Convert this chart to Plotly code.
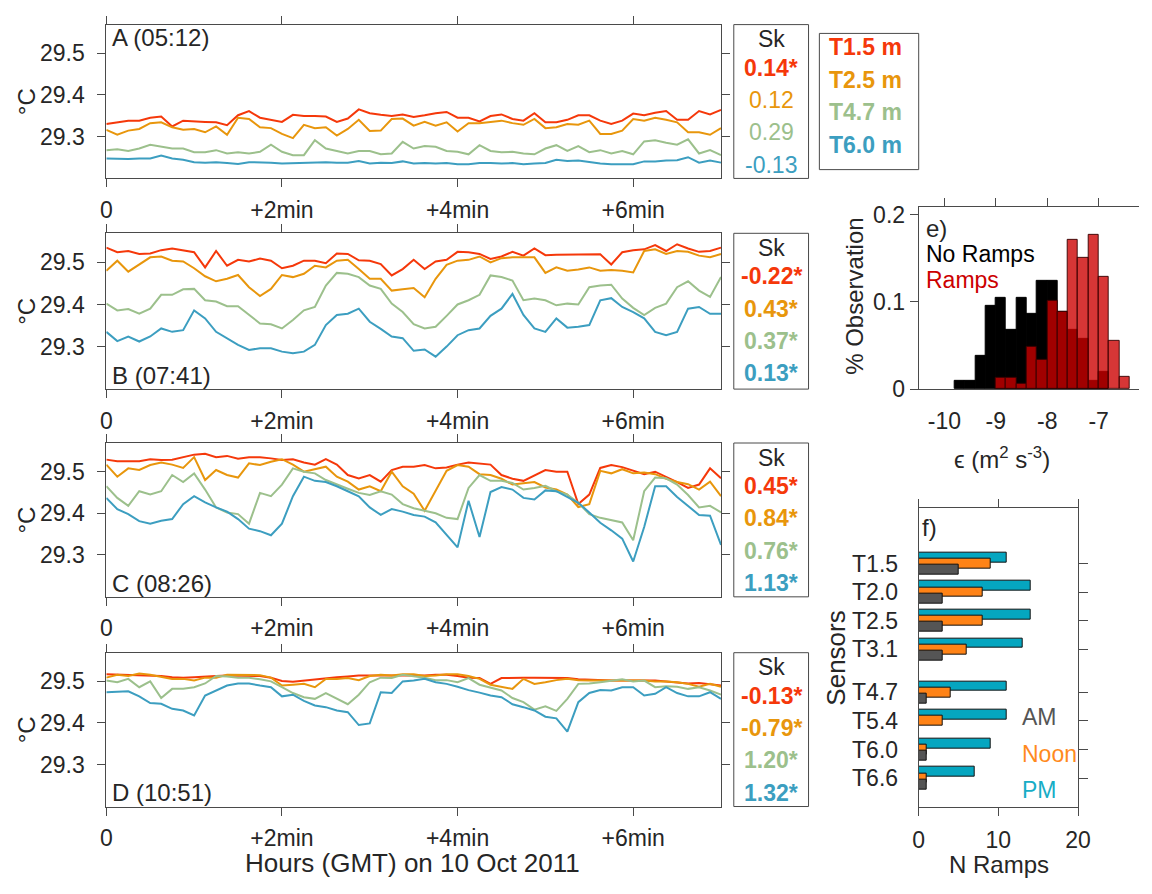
import numpy as np
import plotly.graph_objects as go

# ---------------- sensor colours ----------------
C_T15 = "#F5380A"
C_T25 = "#E8960C"
C_T47 = "#9CC08C"
C_T60 = "#3C9EC0"
SENSOR_COLORS = [C_T15, C_T25, C_T47, C_T60]
SENSOR_NAMES = ["T1.5 m", "T2.5 m", "T4.7 m", "T6.0 m"]

# ---------------- temperature records (degC), 7-min windows ----------------
a_t15 = [29.330, 29.334, 29.338, 29.338, 29.345, 29.348, 29.324, 29.338, 29.336, 29.335,
         29.334, 29.327, 29.351, 29.361, 29.345, 29.340, 29.335, 29.352, 29.349, 29.349,
         29.348, 29.335, 29.343, 29.365, 29.356, 29.352, 29.349, 29.353, 29.347, 29.351,
         29.356, 29.359, 29.345, 29.345, 29.336, 29.349, 29.353, 29.342, 29.338, 29.356,
         29.334, 29.334, 29.340, 29.351, 29.351, 29.338, 29.330, 29.338, 29.355, 29.351,
         29.357, 29.361, 29.340, 29.340, 29.361, 29.353, 29.364]
a_t25 = [29.316, 29.304, 29.314, 29.318, 29.332, 29.334, 29.322, 29.316, 29.318, 29.310,
         29.324, 29.304, 29.345, 29.342, 29.322, 29.320, 29.306, 29.296, 29.328, 29.320,
         29.322, 29.302, 29.318, 29.340, 29.313, 29.314, 29.342, 29.343, 29.326, 29.335,
         29.326, 29.334, 29.312, 29.332, 29.332, 29.335, 29.338, 29.332, 29.328, 29.342,
         29.320, 29.322, 29.330, 29.328, 29.338, 29.306, 29.306, 29.314, 29.342, 29.338,
         29.345, 29.340, 29.334, 29.310, 29.310, 29.304, 29.320]
a_t47 = [29.267, 29.269, 29.265, 29.271, 29.280, 29.275, 29.271, 29.271, 29.262, 29.262,
         29.267, 29.259, 29.262, 29.259, 29.263, 29.280, 29.263, 29.255, 29.255, 29.291,
         29.271, 29.265, 29.259, 29.265, 29.265, 29.257, 29.259, 29.287, 29.271, 29.277,
         29.275, 29.265, 29.263, 29.257, 29.279, 29.265, 29.262, 29.263, 29.259, 29.257,
         29.271, 29.279, 29.265, 29.277, 29.262, 29.267, 29.259, 29.265, 29.257, 29.288,
         29.291, 29.285, 29.280, 29.293, 29.259, 29.267, 29.255]
a_t60 = [29.247, 29.246, 29.246, 29.247, 29.247, 29.254, 29.247, 29.244, 29.238, 29.237,
         29.238, 29.236, 29.234, 29.238, 29.238, 29.237, 29.235, 29.236, 29.236, 29.237,
         29.238, 29.237, 29.237, 29.241, 29.235, 29.237, 29.236, 29.240, 29.235, 29.236,
         29.235, 29.236, 29.233, 29.233, 29.236, 29.236, 29.235, 29.236, 29.233, 29.235,
         29.236, 29.244, 29.241, 29.242, 29.238, 29.235, 29.233, 29.233, 29.233, 29.240,
         29.240, 29.242, 29.243, 29.250, 29.237, 29.242, 29.237]

b_t15 = [29.535, 29.524, 29.527, 29.520, 29.521, 29.529, 29.533, 29.529, 29.524, 29.488,
         29.527, 29.492, 29.506, 29.502, 29.509, 29.504, 29.486, 29.492, 29.504, 29.504,
         29.498, 29.521, 29.520, 29.505, 29.504, 29.496, 29.469, 29.484, 29.506, 29.484,
         29.502, 29.506, 29.525, 29.524, 29.520, 29.508, 29.514, 29.525, 29.516, 29.533,
         29.517, 29.518, 29.518, 29.519, 29.519, 29.519, 29.495, 29.524, 29.529, 29.531,
         29.541, 29.527, 29.543, 29.533, 29.525, 29.527, 29.535]
b_t25 = [29.480, 29.504, 29.478, 29.494, 29.512, 29.514, 29.504, 29.502, 29.486, 29.467,
         29.455, 29.461, 29.470, 29.441, 29.420, 29.437, 29.470, 29.465, 29.473, 29.492,
         29.488, 29.504, 29.506, 29.484, 29.461, 29.461, 29.433, 29.436, 29.439, 29.417,
         29.461, 29.494, 29.504, 29.506, 29.514, 29.500, 29.510, 29.512, 29.512, 29.512,
         29.475, 29.488, 29.480, 29.483, 29.488, 29.480, 29.482, 29.480, 29.476, 29.527,
         29.531, 29.520, 29.527, 29.525, 29.516, 29.512, 29.520]
b_t47 = [29.402, 29.386, 29.389, 29.378, 29.390, 29.423, 29.423, 29.436, 29.437, 29.410,
         29.407, 29.396, 29.396, 29.375, 29.355, 29.353, 29.343, 29.363, 29.386, 29.394,
         29.445, 29.475, 29.473, 29.465, 29.445, 29.437, 29.402, 29.382, 29.353, 29.343,
         29.347, 29.373, 29.400, 29.410, 29.423, 29.469, 29.465, 29.457, 29.410, 29.414,
         29.410, 29.398, 29.402, 29.400, 29.441, 29.445, 29.447, 29.414, 29.392, 29.375,
         29.392, 29.402, 29.441, 29.455, 29.433, 29.418, 29.465]
b_t60 = [29.335, 29.313, 29.324, 29.312, 29.324, 29.343, 29.335, 29.339, 29.386, 29.367,
         29.335, 29.320, 29.304, 29.292, 29.296, 29.296, 29.288, 29.284, 29.288, 29.304,
         29.351, 29.375, 29.378, 29.390, 29.359, 29.342, 29.324, 29.320, 29.290, 29.293,
         29.276, 29.300, 29.327, 29.339, 29.343, 29.373, 29.390, 29.425, 29.375, 29.343,
         29.335, 29.367, 29.345, 29.347, 29.351, 29.410, 29.415, 29.394, 29.382, 29.367,
         29.335, 29.327, 29.335, 29.390, 29.394, 29.378, 29.378]

c_t15 = [29.529, 29.525, 29.525, 29.525, 29.530, 29.528, 29.529, 29.535, 29.541, 29.543,
         29.535, 29.538, 29.531, 29.535, 29.535, 29.532, 29.528, 29.530, 29.522, 29.517,
         29.530, 29.517, 29.492, 29.484, 29.492, 29.476, 29.504, 29.512, 29.512, 29.516,
         29.508, 29.510, 29.517, 29.522, 29.520, 29.517, 29.492, 29.483, 29.478, 29.492,
         29.504, 29.500, 29.500, 29.422, 29.445, 29.509, 29.516, 29.511, 29.502, 29.494,
         29.500, 29.488, 29.475, 29.461, 29.469, 29.508, 29.484]
c_t25 = [29.517, 29.488, 29.508, 29.504, 29.516, 29.522, 29.517, 29.509, 29.535, 29.480,
         29.504, 29.492, 29.486, 29.520, 29.516, 29.524, 29.530, 29.517, 29.500, 29.506,
         29.512, 29.488, 29.476, 29.457, 29.465, 29.453, 29.500, 29.465, 29.447, 29.406,
         29.453, 29.502, 29.516, 29.512, 29.494, 29.492, 29.483, 29.469, 29.472, 29.475,
         29.462, 29.457, 29.445, 29.415, 29.422, 29.502, 29.496, 29.506, 29.496, 29.498,
         29.494, 29.483, 29.475, 29.470, 29.457, 29.476, 29.441]
c_t47 = [29.465, 29.437, 29.418, 29.453, 29.445, 29.453, 29.492, 29.475, 29.496, 29.457,
         29.414, 29.402, 29.398, 29.375, 29.449, 29.441, 29.469, 29.508, 29.500, 29.496,
         29.480, 29.469, 29.459, 29.449, 29.444, 29.453, 29.445, 29.422, 29.412, 29.406,
         29.400, 29.389, 29.386, 29.461, 29.492, 29.478, 29.478, 29.473, 29.457, 29.461,
         29.466, 29.453, 29.445, 29.425, 29.398, 29.389, 29.384, 29.378, 29.335, 29.453,
         29.486, 29.484, 29.469, 29.444, 29.414, 29.418, 29.402]
c_t60 = [29.437, 29.410, 29.398, 29.381, 29.375, 29.382, 29.386, 29.422, 29.441, 29.426,
         29.414, 29.404, 29.386, 29.363, 29.357, 29.347, 29.375, 29.441, 29.488, 29.478,
         29.475, 29.465, 29.453, 29.441, 29.414, 29.396, 29.410, 29.404, 29.396, 29.392,
         29.378, 29.347, 29.318, 29.430, 29.343, 29.451, 29.463, 29.457, 29.437, 29.433,
         29.455, 29.453, 29.440, 29.425, 29.402, 29.377, 29.359, 29.339, 29.284, 29.367,
         29.465, 29.465, 29.439, 29.418, 29.396, 29.394, 29.324]

d_t15 = [29.517, 29.516, 29.515, 29.515, 29.514, 29.513, 29.510, 29.509, 29.510, 29.512,
         29.513, 29.514, 29.514, 29.514, 29.513, 29.509, 29.501, 29.499, 29.502, 29.504,
         29.507, 29.510, 29.512, 29.514, 29.514, 29.514, 29.514, 29.514, 29.513, 29.514,
         29.516, 29.516, 29.513, 29.509, 29.508, 29.494, 29.508, 29.509, 29.509, 29.509,
         29.509, 29.508, 29.508, 29.505, 29.504, 29.502, 29.502, 29.502, 29.502, 29.502,
         29.502, 29.500, 29.498, 29.495, 29.496, 29.493, 29.490]
d_t25 = [29.509, 29.516, 29.513, 29.519, 29.516, 29.511, 29.506, 29.506, 29.502, 29.509,
         29.509, 29.516, 29.516, 29.516, 29.515, 29.509, 29.490, 29.492, 29.494, 29.486,
         29.506, 29.506, 29.508, 29.503, 29.513, 29.516, 29.514, 29.517, 29.517, 29.513,
         29.514, 29.517, 29.517, 29.513, 29.506, 29.492, 29.487, 29.482, 29.506, 29.494,
         29.498, 29.503, 29.506, 29.503, 29.502, 29.502, 29.502, 29.502, 29.502, 29.502,
         29.500, 29.500, 29.498, 29.494, 29.487, 29.494, 29.487]
d_t47 = [29.502, 29.498, 29.506, 29.486, 29.500, 29.460, 29.482, 29.482, 29.486, 29.495,
         29.513, 29.512, 29.509, 29.509, 29.505, 29.500, 29.486, 29.472, 29.462, 29.458,
         29.472, 29.458, 29.445, 29.468, 29.498, 29.509, 29.508, 29.516, 29.513, 29.509,
         29.503, 29.503, 29.498, 29.508, 29.492, 29.485, 29.478, 29.460, 29.450, 29.432,
         29.440, 29.429, 29.458, 29.494, 29.495, 29.498, 29.502, 29.505, 29.500, 29.502,
         29.486, 29.488, 29.487, 29.482, 29.486, 29.478, 29.468]
d_t60 = [29.474, 29.475, 29.476, 29.464, 29.448, 29.446, 29.434, 29.430, 29.418, 29.466,
         29.478, 29.490, 29.495, 29.495, 29.490, 29.486, 29.464, 29.468, 29.453, 29.442,
         29.438, 29.430, 29.426, 29.395, 29.399, 29.474, 29.472, 29.500, 29.502, 29.506,
         29.498, 29.494, 29.487, 29.479, 29.473, 29.466, 29.462, 29.445, 29.438, 29.430,
         29.415, 29.411, 29.379, 29.450, 29.472, 29.479, 29.478, 29.486, 29.486, 29.466,
         29.470, 29.486, 29.472, 29.464, 29.464, 29.474, 29.458]

# skewness of each record (asterisk = significant)
sk_a = ["0.14*", "0.12", "0.29", "-0.13"]
sk_b = ["-0.22*", "0.43*", "0.37*", "0.13*"]
sk_c = ["0.45*", "0.84*", "0.76*", "1.13*"]
sk_d = ["-0.13*", "-0.79*", "1.20*", "1.32*"]

# ---------------- dissipation histogram (fraction of observations) ----------------
bin_width = 0.2
no_ramps_first_edge = -9.8
no_ramps_frac = [0.010, 0.010, 0.038, 0.095, 0.105, 0.068, 0.105, 0.086,
                 0.124, 0.124, 0.089, 0.068, 0.058, 0.010, 0.020]
ramps_first_edge = -9.0
ramps_frac = [0.013, 0.013, 0.006, 0.048, 0.034, 0.101, 0.089,
              0.171, 0.150, 0.177, 0.129, 0.055, 0.014]

# ---------------- number of ramps per sensor ----------------
ramp_sensors = ["T1.5", "T2.0", "T2.5", "T3.1", "T4.7", "T5.4", "T6.0", "T6.6"]
ramps_am = [5, 3, 3, 3, 1, 0, 1, 1]
ramps_noon = [9, 8, 8, 6, 4, 3, 1, 1]
ramps_pm = [11, 14, 14, 13, 11, 11, 9, 7]
C_AM, C_NOON, C_PM = "#555555", "#FF8316", "#05A6C0"

# ---------------- page geometry helpers ----------------
W, H = 1152, 894
FONT = "Liberation Sans, Arial, Helvetica, sans-serif"
INK = "#262626"
AXC = "#4a4a4a"
TICK = 23


def fx(x):
    return x / W


def fy(y):
    return 1 - y / H


annotations = []
shapes = []


def label(text, x, y, size=24, color=INK, xanchor="center", yanchor="middle",
          angle=0, bold=False):
    if bold:
        text = f"<b>{text}</b>"
    annotations.append(dict(text=text, x=fx(x), y=fy(y), xref="paper", yref="paper",
                            xanchor=xanchor, yanchor=yanchor, showarrow=False,
                            textangle=angle, borderpad=0,
                            font=dict(family=FONT, size=size, color=color)))


def box(x0, y0, x1, y1):
    shapes.append(dict(type="rect", xref="paper", yref="paper",
                       x0=fx(x0), x1=fx(x1), y0=fy(y1), y1=fy(y0),
                       line=dict(color=AXC, width=1), fillcolor="rgba(0,0,0,0)"))


fig = go.Figure()
layout = {}

# ---------------- time-series panels ----------------
panels = [
    ("A (05:12)", 20, 177, "top", [a_t15, a_t25, a_t47, a_t60], sk_a),
    ("B (07:41)", 233, 392, "bottom", [b_t15, b_t25, b_t47, b_t60], sk_b),
    ("C (08:26)", 447, 604, "bottom", [c_t15, c_t25, c_t47, c_t60], sk_c),
    ("D (10:51)", 661, 818, "bottom", [d_t15, d_t25, d_t47, d_t60], sk_d),
]
TS_LEFT, TS_RIGHT = 102, 727

for i, (tag, top, bottom, where, series, sk) in enumerate(panels, start=1):
    xa, ya = f"x{i}", f"y{i}"
    for vals, col in zip(series, SENSOR_COLORS):
        t = np.linspace(0, 7, len(vals))
        fig.add_trace(go.Scatter(x=t, y=vals, mode="lines", xaxis=xa, yaxis=ya,
                                 line=dict(color=col, width=2), showlegend=False,
                                 hoverinfo="skip"))
    layout[f"xaxis{i}"] = dict(
        domain=[fx(TS_LEFT), fx(TS_RIGHT)], anchor=ya, range=[0, 7], fixedrange=True,
        tickvals=[0, 2, 4, 6], ticktext=["0", "+2min", "+4min", "+6min"],
        ticks="outside", ticklen=8, tickcolor=AXC, showline=True, linecolor=AXC,
        mirror="ticks", showgrid=False, zeroline=False, ticklabelstandoff=3,
        tickfont=dict(family=FONT, size=TICK, color=INK))
    layout[f"yaxis{i}"] = dict(
        domain=[fy(bottom), fy(top)], anchor=xa, range=[29.199, 29.569], fixedrange=True,
        tickvals=[29.3, 29.4, 29.5], ticktext=["29.3", "29.4", "29.5"],
        ticks="outside", ticklen=8, tickcolor=AXC, showline=True, linecolor=AXC,
        mirror="ticks", showgrid=False, zeroline=False, ticklabelstandoff=8,
        tickfont=dict(family=FONT, size=TICK, color=INK))

    label("°C", 21, (top + bottom) / 2, size=24, angle=-90)
    label(tag, 107, top + 13 if where == "top" else bottom - 14, size=24, xanchor="left")

    # skewness box
    box(740, top, 816, bottom)
    label("Sk", 778, top + 15, size=23)
    for j, (txt, col) in enumerate(zip(sk, SENSOR_COLORS)):
        label(txt, 778, top + 44 + 33 * j, size=23, color=col, bold=txt.endswith("*"))

# sensor key
box(827, 29, 928, 168)
for j, (name, col) in enumerate(zip(SENSOR_NAMES, SENSOR_COLORS)):
    label(name, 836, 43 + 33.3 * j, size=23, color=col, xanchor="left", bold=True)

label("Hours (GMT) on 10 Oct 2011", 413, 892, size=26, yanchor="bottom")

# ---------------- panel e: dissipation histogram ----------------
nr_x = [no_ramps_first_edge + bin_width * (k + 0.5) for k in range(len(no_ramps_frac))]
r_x = [ramps_first_edge + bin_width * (k + 0.5) for k in range(len(ramps_frac))]
fig.add_trace(go.Bar(x=nr_x, y=no_ramps_frac, width=bin_width, xaxis="x5", yaxis="y5",
                     marker=dict(color="#000000", line=dict(color="#000000", width=1)),
                     showlegend=False, hoverinfo="skip"))
fig.add_trace(go.Bar(x=r_x, y=ramps_frac, width=bin_width, xaxis="x5", yaxis="y5",
                     marker=dict(color="rgba(204,0,0,0.79)",
                                 line=dict(color="rgba(50,0,0,0.9)", width=1)),
                     showlegend=False, hoverinfo="skip"))
fig.add_trace(go.Scatter(x=[None], y=[None], xaxis="x6", yaxis="y5", showlegend=False,
                         hoverinfo="skip"))
HIST_X = [-10.5, -6.215]
layout["xaxis5"] = dict(
    domain=[fx(928), 1.0], anchor="y5", range=HIST_X, fixedrange=True,
    tickvals=[-10, -9, -8, -7], ticktext=["-10", "-9", "-8", "-7"],
    ticks="", showline=True, linecolor=AXC, mirror=True, showgrid=False,
    zeroline=False, ticklabelstandoff=11,
    tickfont=dict(family=FONT, size=TICK, color=INK))
layout["xaxis6"] = dict(
    overlaying="x5", anchor="y5", side="top", range=HIST_X, fixedrange=True,
    tickvals=[-10, -9, -8, -7], ticks="outside", ticklen=8, tickcolor=AXC,
    showticklabels=False, showline=False, showgrid=False, zeroline=False)
layout["yaxis5"] = dict(
    domain=[fy(392), fy(206)], anchor="x5", range=[0, 0.209], fixedrange=True,
    tickvals=[0, 0.1, 0.2], ticktext=["0", "0.1", "0.2"],
    ticks="outside", ticklen=8, tickcolor=AXC, showline=True, linecolor=AXC,
    showgrid=False, zeroline=False, ticklabelstandoff=0,
    tickfont=dict(family=FONT, size=TICK, color=INK))
label("e)", 934, 228, size=24, xanchor="left")
label("No Ramps", 934, 254.5, size=23, xanchor="left", color="#000000")
label("Ramps", 934, 280.5, size=23, xanchor="left", color="#CC0000")
label("% Observation", 862, 297, size=24, angle=-90)
label("ϵ (m<sup>2</sup> s<sup>-3</sup>)", 1013, 462, size=24)

# ---------------- panel f: ramps per sensor ----------------
sensor_pos = [k + 1 + (0.5 if k >= 4 else 0) for k in range(len(ramp_sensors))]
bar_h, bar_step = 0.34, 0.216
for vals, col, shift in [(ramps_pm, C_PM, -bar_step), (ramps_noon, C_NOON, 0.0),
                         (ramps_am, C_AM, bar_step)]:
    fig.add_trace(go.Bar(x=vals, y=[p + shift for p in sensor_pos], orientation="h",
                         width=bar_h, xaxis="x7", yaxis="y7",
                         marker=dict(color=col, line=dict(color="#111111", width=1)),
                         showlegend=False, hoverinfo="skip"))
fig.add_trace(go.Scatter(x=[None], y=[None], xaxis="x7", yaxis="y8", showlegend=False,
                         hoverinfo="skip"))
BAR_Y = [9.49, -0.95]
layout["xaxis7"] = dict(
    domain=[fx(928), fx(1090)], anchor="y7", range=[0, 20], fixedrange=True,
    tickvals=[0, 10, 20], ticktext=["0", "10", "20"],
    ticks="outside", ticklen=8, tickcolor=AXC, showline=True, linecolor=AXC,
    mirror="ticks", showgrid=False, zeroline=False, ticklabelstandoff=5,
    tickfont=dict(family=FONT, size=TICK, color=INK))
layout["yaxis7"] = dict(
    domain=[fy(818), fy(513)], anchor="x7", range=BAR_Y, fixedrange=True,
    tickvals=sensor_pos, ticktext=ramp_sensors, ticks="", showline=True,
    linecolor=AXC, mirror=True, showgrid=False, zeroline=False,
    ticklabelstandoff=15, tickfont=dict(family=FONT, size=TICK, color=INK))
layout["yaxis8"] = dict(
    overlaying="y7", anchor="x7", side="right", range=BAR_Y, tickvals=sensor_pos,
    fixedrange=True, ticks="outside", ticklen=9, tickcolor=AXC, showticklabels=False,
    showline=False, showgrid=False, zeroline=False)
label("f)", 930, 533, size=24, xanchor="left")
label("AM", 1032, 727, size=23, xanchor="left", color=C_AM)
label("Noon", 1032, 764, size=23, xanchor="left", color="#FF8A1E")
label("PM", 1032, 801, size=23, xanchor="left", color="#17ADC6")
label("Sensors", 843, 667, size=26, angle=-90)
label("N Ramps", 1010, 892, size=24, yanchor="bottom")

fig.update_layout(
    width=W, height=H, margin=dict(l=0, r=0, t=0, b=0),
    paper_bgcolor="white", plot_bgcolor="white", barmode="overlay",
    bargap=0, showlegend=False, annotations=annotations, shapes=shapes,
    dragmode=False, font=dict(family=FONT, color=INK), **layout)

fig.write_html("out.html")
